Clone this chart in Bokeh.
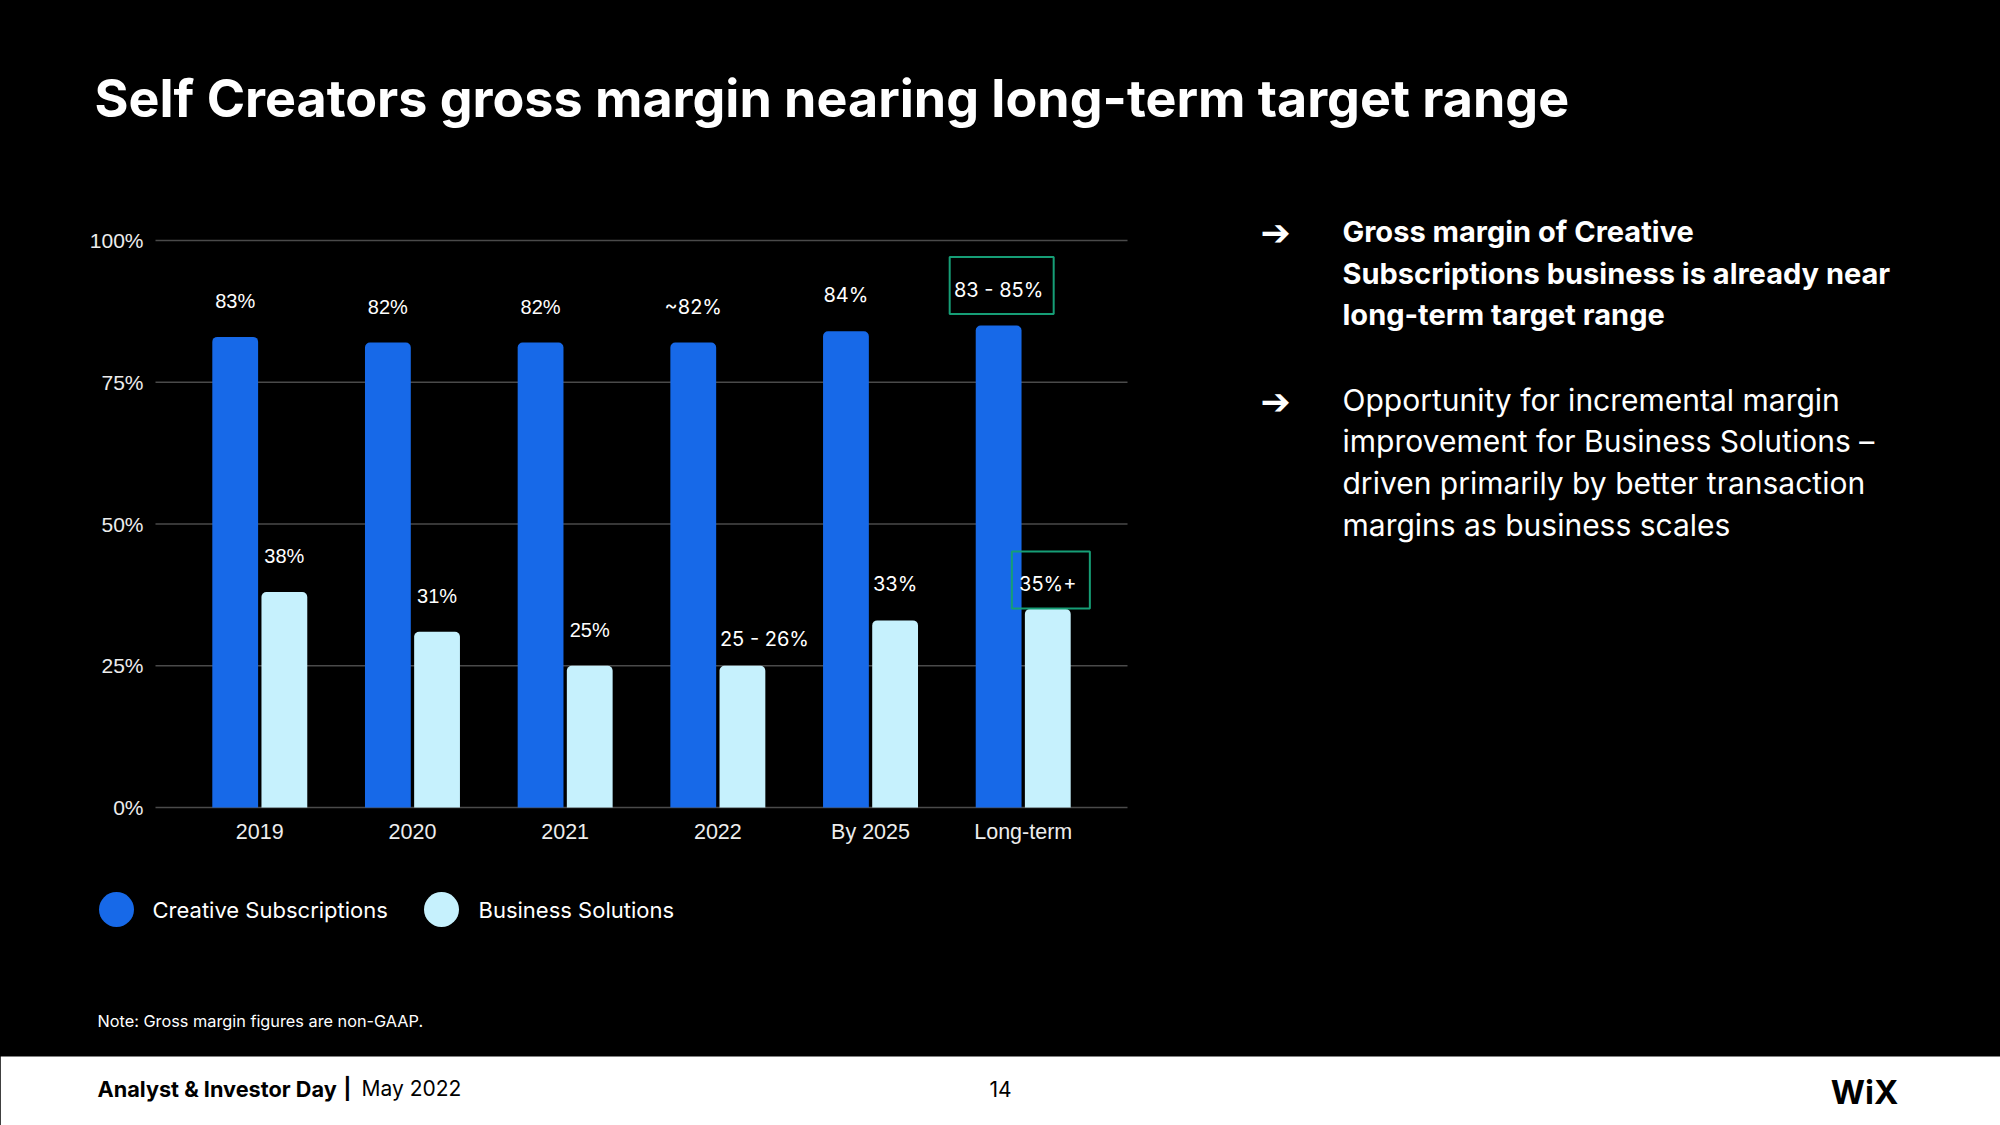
from bokeh.plotting import figure
from bokeh.models import Range1d, ColumnDataSource, FixedTicker, LinearAxis
from bokeh.transform import dodge
from bokeh.core.properties import value
from bokeh.embed import file_html
from bokeh.resources import INLINE

# ---------------- data ----------------
categories = ["2019", "2020", "2021", "2022", "By 2025", "Long-term"]
creative = [83, 82, 82, 82, 84, 85]
business = [38, 31, 25, 25, 33, 35]
creative_labels = ["83%", "82%", "82%", "~82%", "84%", "83 - 85%"]
business_labels = ["38%", "31%", "25%", "25 - 26%", "33%", "35%+"]
y_ticks = [0, 25, 50, 75, 100]
y_tick_labels = ["0%", "25%", "50%", "75%", "100%"]
series_names = ["Creative Subscriptions", "Business Solutions"]
highlighted = ["83 - 85%", "35%+"]

title_text = "Self Creators gross margin nearing long-term target range"
bullet1 = ["Gross margin of Creative", "Subscriptions business is already near", "long-term target range"]
bullet2 = ["Opportunity for incremental margin", "improvement for Business Solutions \u2013",
           "driven primarily by better transaction", "margins as business scales"]
note_text = "Note: Gross margin figures  are non-GAAP."
footer_bold = "Analyst & Investor Day"
footer_regular = "May 2022"
page_number = "14"
logo_text = "WiX"

# ---------------- layout constants (canvas pixels) ----------------
BLUE = "#1769E8"
LIGHT = "#C6F1FD"
GREEN = "#169E76"
GRID = "#4A4A4A"
W, H = 2000, 1125
FL, FR, FT, FB = 155, 1127, 240, 807      # chart area
FOOT = 1056                               # top of white footer band
DODGE = 0.161
BAR_W = 0.30
LABEL_RAISE = 36
PAD = 0.683
n = len(categories)
UNIT = (FR - FL) / (n - 1 + 2 * PAD)      # px per category
PXU = (FB - FT) / 100.0                   # px per percentage point

p = figure(width=W, height=H, x_range=Range1d(0, W), y_range=Range1d(H, 0),
           x_axis_type=None, y_axis_type=None,
           output_backend="svg", toolbar_location=None,
           min_border=0, min_border_left=0, min_border_right=0, min_border_top=0, min_border_bottom=0,
           background_fill_color="black", border_fill_color="black", outline_line_color=None)
p.title.visible = False
p.styles = {"background-color": "black"}
p.extra_x_ranges = {"cat": Range1d(-PAD - FL / UNIT, -PAD + (W - FL) / UNIT)}
p.extra_y_ranges = {"val": Range1d(-(H - FB) / PXU, 100 + FT / PXU)}
C = dict(x_range_name="cat", y_range_name="val")

# white footer band
p.block(x=[-2], y=[H + 2], width=[W + 4], height=[H + 2 - FOOT], fill_color="white", line_color=None)

pos = list(range(n))
early = 3
fonts = ["Liberation Sans" if i < early else "Inter" for i in pos]
dx = {"25 - 26%": 22}
dy = {"25 - 26%": 9, "35%+": 11}

src = ColumnDataSource(dict(
    pos=pos, creative=creative, business=business,
    clab=creative_labels, blab=business_labels, font=fonts,
    cdx=[dx.get(t, 0) for t in creative_labels],
    cdy=[-LABEL_RAISE + dy.get(t, 0) for t in creative_labels],
    bdx=[dx.get(t, 0) for t in business_labels],
    bdy=[-LABEL_RAISE + dy.get(t, 0) for t in business_labels],
))

# grid lines (library scales, chart ranges)
p.segment(x0=[-PAD] * len(y_ticks), x1=[n - 1 + PAD] * len(y_ticks), y0=y_ticks, y1=y_ticks,
          line_color=GRID, line_width=1.5, **C)

p.vbar(x=dodge("pos", -DODGE), top="creative", bottom=0, width=BAR_W, source=src,
       fill_color=BLUE, line_color=None, border_radius=(5, 5, 0, 0), **C)
p.vbar(x=dodge("pos", DODGE), top="business", bottom=0, width=BAR_W, source=src,
       fill_color=LIGHT, line_color=None, border_radius=(5, 5, 0, 0), **C)

p.text(x=dodge("pos", -DODGE), y="creative", text="clab", source=src,
       x_offset="cdx", y_offset="cdy", text_font="font", text_font_size="20px",
       text_color="white", text_align="center", text_baseline="middle", **C)
p.text(x=dodge("pos", DODGE), y="business", text="blab", source=src,
       x_offset="bdx", y_offset="bdy", text_font="font", text_font_size="20px",
       text_color="white", text_align="center", text_baseline="middle", **C)

# highlight boxes around the target labels
hx, hy, hw = [], [], []
for i in pos:
    for lab, val, off in ((creative_labels[i], creative[i], -DODGE), (business_labels[i], business[i], DODGE)):
        if lab in highlighted:
            hx.append(i + off + 0.02)
            hy.append(val + (LABEL_RAISE - dy.get(lab, 0) + 4) / PXU)
            hw.append(52 + 6.5 * len(lab))
p.rect(x=hx, y=hy, width=hw, height=57, width_units="screen", height_units="screen",
       fill_color=None, line_color=GREEN, line_width=2, **C)

# axes fixed at the chart edges
yaxis = LinearAxis(x_range_name="cat", y_range_name="val", fixed_location=-PAD,
                   ticker=FixedTicker(ticks=y_ticks),
                   major_label_overrides={t: l for t, l in zip(y_ticks, y_tick_labels)})
xaxis = LinearAxis(x_range_name="cat", y_range_name="val", fixed_location=0,
                   ticker=FixedTicker(ticks=pos),
                   major_label_overrides={i: c for i, c in zip(pos, categories)})
for ax in (xaxis, yaxis):
    ax.axis_line_color = None
    ax.major_tick_line_color = None
    ax.minor_tick_line_color = None
    ax.major_label_text_font = "Liberation Sans"
    ax.major_label_text_font_size = "21px"
    ax.major_label_text_color = "#EDEDED"
    ax.major_label_standoff = 6
xaxis.major_label_text_font_size = "21.5px"
p.add_layout(yaxis, "left")
p.add_layout(xaxis, "below")

# title
p.text(x=[94], y=[98], text=[title_text], text_font=value("Inter"), text_font_style="bold",
       text_font_size="52px", text_color="white", text_baseline="middle")

# commentary
TX = 1342
p.text(x=[1275, 1275], y=[232, 401], text=["\u2794", "\u2794"], text_font=value("DejaVu Sans"),
       text_font_style="bold", text_font_size="36px", text_color="white",
       text_align="center", text_baseline="middle")
p.text(x=[TX] * len(bullet1), y=[231 + 41.5 * i for i in range(len(bullet1))], text=bullet1,
       text_font=value("Inter"), text_font_style="bold", text_font_size="29px",
       text_color="white", text_baseline="middle")
p.text(x=[TX] * len(bullet2), y=[399 + 41.7 * i for i in range(len(bullet2))], text=bullet2,
       text_font=value("Inter"), text_font_size="30px",
       text_color="white", text_baseline="middle")

# legend
leg = ColumnDataSource(dict(x=[116, 441], tx=[152, 478], y=[909, 909], name=series_names, c=[BLUE, LIGHT]))
p.scatter(x="x", y="y", size=35, fill_color="c", line_color=None, source=leg)
p.text(x="tx", y="y", text="name", source=leg, text_font=value("Inter"), text_font_size="22px",
       text_color="white", text_baseline="middle", text_align="left")

# note
p.text(x=[97], y=[1020], text=[note_text], text_font=value("Inter"), text_font_size="16.3px",
       text_color="white", text_baseline="middle")

# footer
p.text(x=[97], y=[1088], text=[footer_bold], text_font=value("Inter"), text_font_style="bold",
       text_font_size="21.7px", text_color="black", text_baseline="middle")
p.text(x=[347], y=[1088], text=["|"], text_font=value("Inter"), text_font_style="bold",
       text_font_size="21px", text_color="black", text_baseline="middle", text_align="center")
p.text(x=[361], y=[1088], text=[footer_regular], text_font=value("Inter"),
       text_font_size="21px", text_color="black", text_baseline="middle")
p.text(x=[1000], y=[1088], text=[page_number], text_font=value("Inter"),
       text_font_size="21px", text_color="black", text_baseline="middle", text_align="center")
p.text(x=[1864], y=[1091], text=[logo_text], text_font=value("Inter"), text_font_style="bold",
       text_font_size="33px", text_color="black", text_baseline="middle", text_align="center")

open("out.html", "w").write(file_html(p, INLINE))
